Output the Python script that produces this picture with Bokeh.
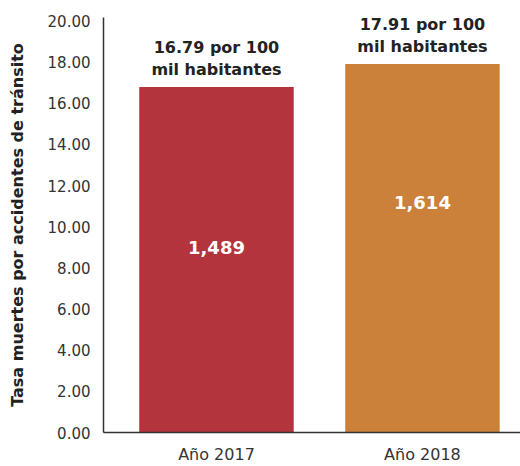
from bokeh.plotting import figure
from bokeh.models import Range1d, FixedTicker, PrintfTickFormatter, ColumnDataSource
from bokeh.core.properties import value
from bokeh.embed import file_html
from bokeh.resources import INLINE

# ---- data ----
categories = ["Año 2017", "Año 2018"]
rates = [16.79, 17.91]
deaths = [1489, 1614]
count_label_y = [9.0, 11.2]
bar_colors = ["#B3343D", "#CB8139"]
y_ticks = [0, 2, 4, 6, 8, 10, 12, 14, 16, 18, 20]

FONT = "DejaVu Sans"

xs = [i + 0.5 for i in range(len(categories))]
src = ColumnDataSource(dict(
    x=xs,
    top=rates,
    color=bar_colors,
    rate_text=[f"{r:.2f} por 100\nmil habitantes" for r in rates],
    count_text=[f"{d:,}" for d in deaths],
    count_y=count_label_y,
))

p = figure(width=520, height=466,
           x_range=Range1d(-0.0485, 1.976), y_range=Range1d(0, 20.17),
           output_backend="svg", toolbar_location=None,
           min_border_left=103, min_border_right=0, min_border_top=17, min_border_bottom=30)
p.outline_line_color = None
p.xgrid.grid_line_color = None
p.ygrid.grid_line_color = None
p.background_fill_color = "white"
p.border_fill_color = "white"

p.vbar(x="x", top="top", width=0.75, bottom=0, color="color", line_color=None, source=src)

p.text(x="x", y="top", text="rate_text", source=src,
       text_font=value(FONT), text_font_size="16px", text_font_style="bold",
       text_color="#222222", text_align="center", text_baseline="bottom",
       text_line_height=1.15, y_offset=-8)

p.text(x="x", y="count_y", text="count_text", source=src,
       text_font=value(FONT), text_font_size="18px", text_font_style="bold",
       text_color="white", text_align="center", text_baseline="middle")

# y axis
ya = p.yaxis[0]
ya.ticker = FixedTicker(ticks=y_ticks)
ya.formatter = PrintfTickFormatter(format="%.2f")
ya.major_tick_line_color = None
ya.minor_tick_line_color = None
ya.major_tick_out = 0
ya.major_label_standoff = 13
ya.axis_line_color = "#333333"
ya.axis_line_width = 1.5
ya.major_label_text_font = FONT
ya.major_label_text_font_size = "15px"
ya.major_label_text_color = "#333333"
ya.axis_label = "Tasa muertes por accidentes de tránsito"
ya.axis_label_text_font = FONT
ya.axis_label_text_font_size = "16px"
ya.axis_label_text_font_style = "bold"
ya.axis_label_text_color = "#222222"
ya.axis_label_standoff = 18

# x axis
xa = p.xaxis[0]
xa.ticker = FixedTicker(ticks=xs)
xa.major_label_overrides = {x: c for x, c in zip(xs, categories)}
xa.major_tick_line_color = None
xa.minor_tick_line_color = None
xa.major_tick_out = 0
xa.major_label_standoff = 12
xa.axis_line_color = "#333333"
xa.axis_line_width = 1.5
xa.major_label_text_font = FONT
xa.major_label_text_font_size = "16px"
xa.major_label_text_color = "#333333"

open("out.html", "w").write(file_html(p, INLINE))
